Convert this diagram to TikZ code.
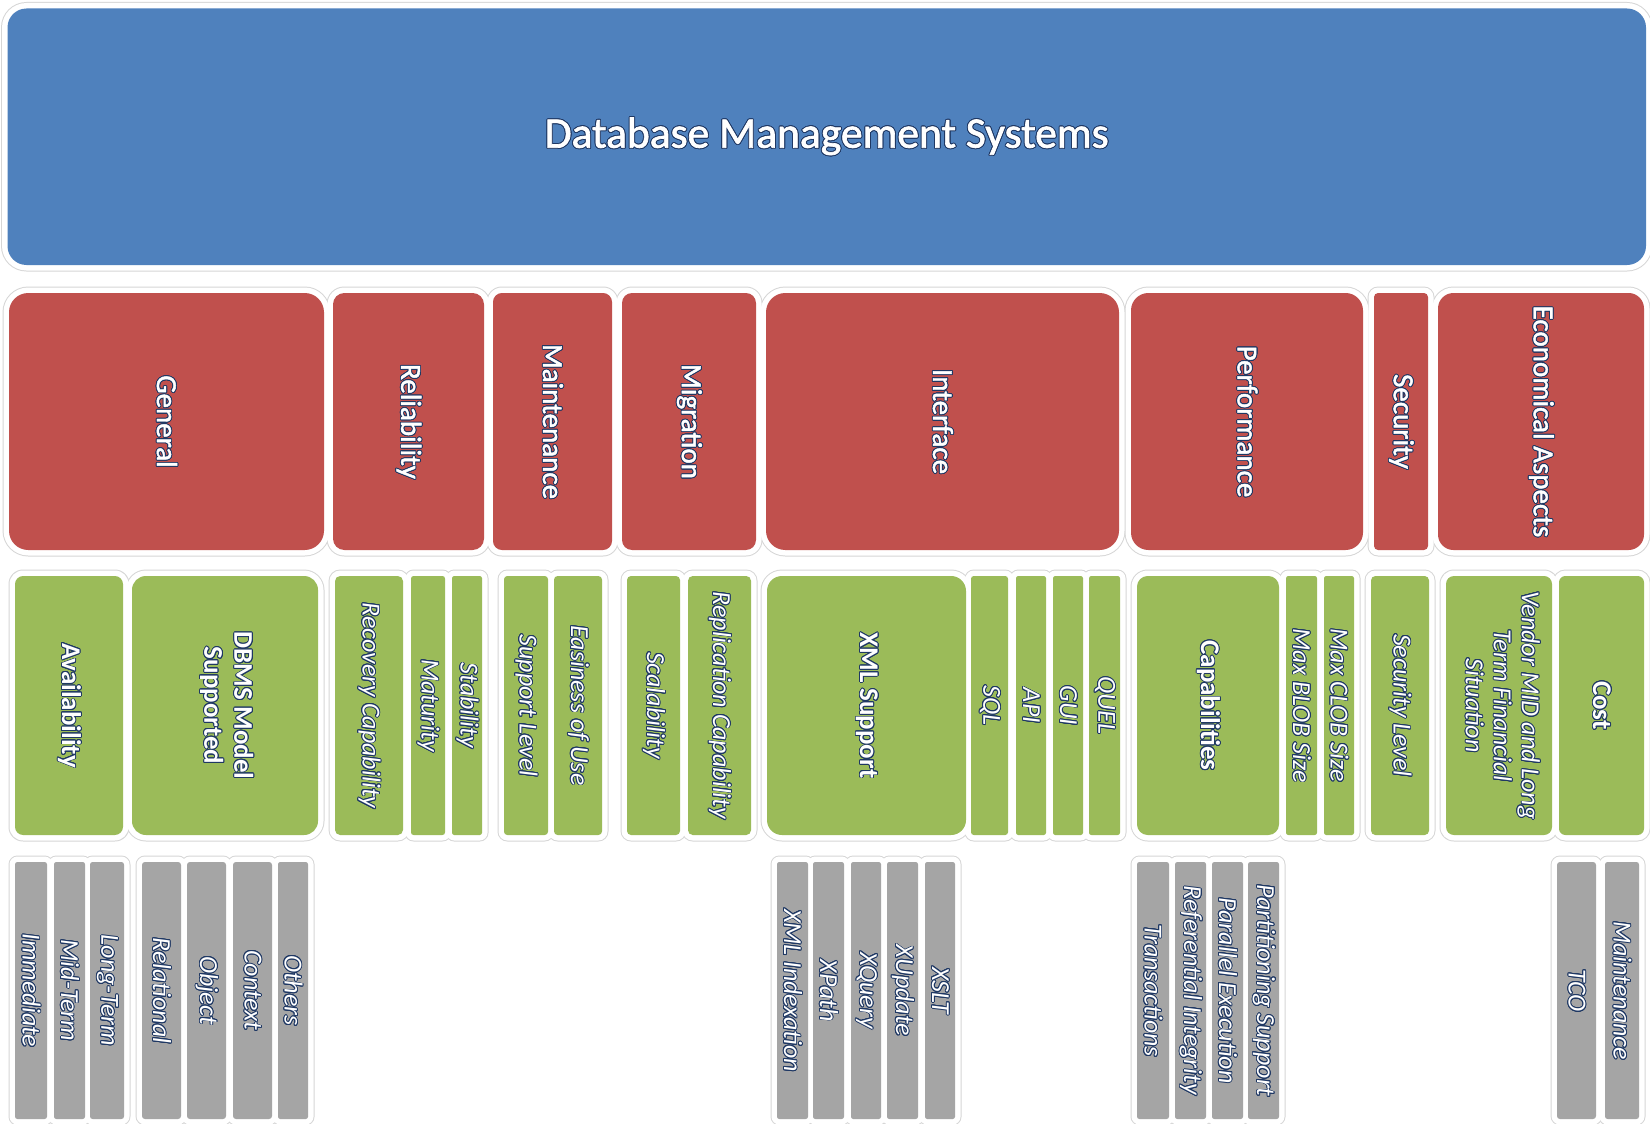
\documentclass[tikz,border=0pt]{standalone}
\usepackage{fontspec}
\setmainfont{Carlito}
\newfontfamily\heavyfont{Carlito}[FakeBold=1.6]
\usepackage{contour}
\contourlength{0.9pt}
\contournumber{16}
\definecolor{dbblue}{HTML}{4F81BD}
\definecolor{catred}{HTML}{C0504D}
\definecolor{featgreen}{HTML}{9BBB59}
\definecolor{leafgray}{HTML}{A5A5A5}
\definecolor{rimgray}{HTML}{D6D6D6}
\definecolor{edgeink}{HTML}{1F3864}
\newcommand{\lbl}[1]{\contour{edgeink}{#1}}
\newcommand{\stack}[1]{\begin{tabular}{@{}c@{}}#1\end{tabular}}
\tikzset{
  tile/.style={inner sep=0pt, text=white, rotate=-90},
  titlebox/.style={inner sep=0pt, text=white, fill=dbblue,
    font=\heavyfont\fontsize{43.5}{50}\selectfont},
  catbox/.style={tile, fill=catred, font=\heavyfont\fontsize{29}{33}\selectfont},
  featbox/.style={tile, fill=featgreen, font=\bfseries\fontsize{27}{30}\selectfont},
  subbox/.style={tile, fill=featgreen, font=\itshape\fontsize{26}{28}\selectfont},
  leafbox/.style={tile, fill=leafgray, font=\itshape\fontsize{26}{28}\selectfont}
}
% name/left/right/top/bottom/style/text (pixels)
\def\tiles{%
  general/9/324/293/550/catbox/{General},%
  reliab/333/484/293/550/catbox/{Reliability},%
  maint/493/612/293/550/catbox/{Maintenance},%
  migr/622/756/293/550/catbox/{Migration},%
  iface/766/1119/293/550/catbox/{Interface},%
  perf/1131/1363/293/550/catbox/{Performance},%
  secur/1374/1428/293/550/catbox/{Security},%
  econ/1438/1644/293/550/catbox/{Economical Aspects},%
  avail/15/123/576/835/featbox/{Availability},%
  dbmsmodel/132/318/576/835/featbox/{\stack{DBMS Model\\Supported}},%
  recov/335/403/576/835/subbox/{Recovery Capability},%
  matur/411/445/576/835/subbox/{Maturity},%
  stabil/452/482/576/835/subbox/{Stability},%
  suplevel/504/548/576/835/subbox/{Support Level},%
  easiness/554/602/576/835/subbox/{Easiness of Use},%
  scalab/627/680/576/835/subbox/{Scalability},%
  replic/688/751/576/835/subbox/{Replication Capability},%
  xmlsup/767/966/576/835/featbox/{XML Support},%
  sql/971/1008/576/835/subbox/{SQL},%
  api/1016/1046/576/835/subbox/{API},%
  gui/1053/1083/576/835/subbox/{GUI},%
  quel/1089/1120/576/835/subbox/{QUEL},%
  capab/1137/1279/576/835/featbox/{Capabilities},%
  blob/1286/1317/576/835/subbox/{Max BLOB Size},%
  clob/1324/1354/576/835/subbox/{Max CLOB Size},%
  seclevel/1371/1429/576/835/subbox/{Security Level},%
  vendor/1446/1552/576/835/subbox/{\stack{Vendor MID and Long\\Term Financial\\Situation}},%
  cost/1559/1644/576/835/featbox/{Cost},%
  immed/15/47/862/1119/leafbox/{Immediate},%
  midterm/54/85/862/1119/leafbox/{Mid-Term},%
  longterm/90/124/862/1119/leafbox/{Long-Term},%
  relational/142/181/862/1119/leafbox/{Relational},%
  object/187/226/862/1119/leafbox/{Object},%
  context/233/272/862/1119/leafbox/{Context},%
  others/278/308/862/1119/leafbox/{Others},%
  xmlidx/777/808/862/1119/leafbox/{XML Indexation},%
  xpath/813/844/862/1119/leafbox/{XPath},%
  xquery/851/881/862/1119/leafbox/{XQuery},%
  xupdate/887/918/862/1119/leafbox/{XUpdate},%
  xslt/925/955/862/1119/leafbox/{XSLT},%
  transact/1137/1169/862/1119/leafbox/{Transactions},%
  refint/1175/1206/862/1119/leafbox/{Referential Integrity},%
  parexec/1212/1243/862/1119/leafbox/{Parallel Execution},%
  partsup/1248/1279/862/1119/leafbox/{Partitioning Support},%
  tco/1557/1596/862/1119/leafbox/{TCO},%
  maintcost/1605/1639/862/1119/leafbox/{Maintenance}%
}
\begin{document}
\begin{tikzpicture}[x=1pt,y=-1pt]
  \useasboundingbox[fill=white] (0,0) rectangle (1650,1124);
  % white frames with a thin grey rim
  \fill[rimgray, rounded corners=25.5pt] (1,2) rectangle (1652.5,271.5);
  \foreach \n/\xa/\xb/\ya/\yb/\st/\txt in \tiles {
    \pgfmathsetmacro{\rr}{0.075*min(\xb-\xa,\yb-\ya)+6.5}
    \fill[rimgray, rounded corners=\rr pt] (\xa-6.5,\ya-6.5) rectangle (\xb+6.5,\yb+6.5);
  }
  \fill[white, rounded corners=24.5pt] (2,3) rectangle (1651.5,270.5);
  \foreach \n/\xa/\xb/\ya/\yb/\st/\txt in \tiles {
    \pgfmathsetmacro{\rr}{0.075*min(\xb-\xa,\yb-\ya)+5.5}
    \fill[white, rounded corners=\rr pt] (\xa-5.5,\ya-5.5) rectangle (\xb+5.5,\yb+5.5);
  }
  % the boxes
  \node[titlebox, minimum width=1638.5pt, minimum height=256.5pt, rounded corners=19pt]
    (dbms) at (826.75,136.75) {\lbl{Database Management Systems}};
  \foreach \n/\xa/\xb/\ya/\yb/\st/\txt in \tiles {
    \pgfmathsetmacro{\ww}{\xb-\xa}
    \pgfmathsetmacro{\hh}{\yb-\ya}
    \pgfmathsetmacro{\rr}{0.075*min(\ww,\hh)}
    \node[\st, minimum width=\hh pt, minimum height=\ww pt, rounded corners=\rr pt]
      (\n) at ({(\xa+\xb)/2},{(\ya+\yb)/2}) {\lbl{\txt}};
  }
\end{tikzpicture}
\end{document}
